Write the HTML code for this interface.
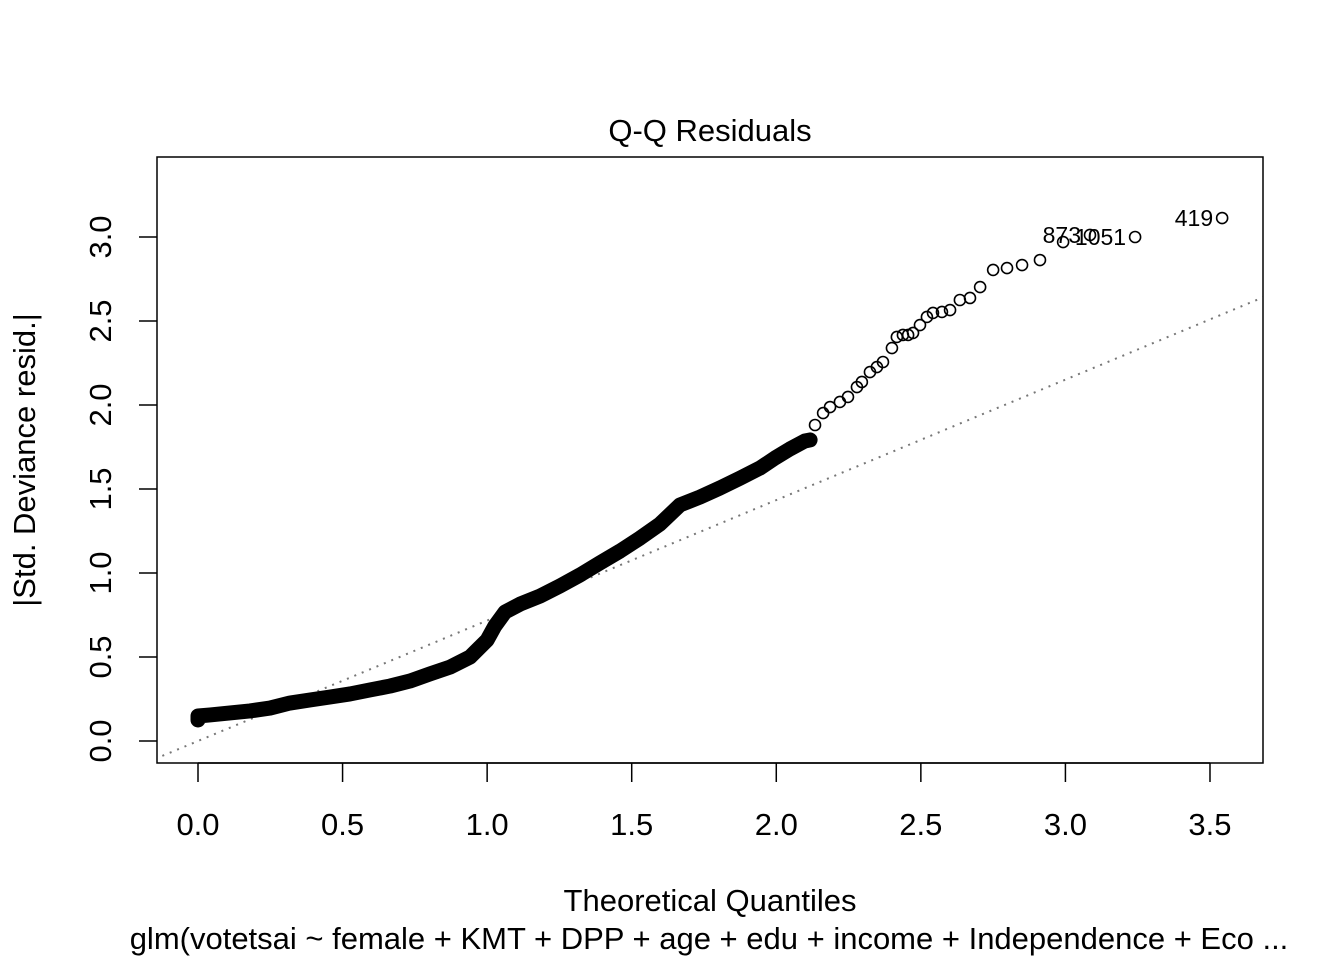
<!DOCTYPE html>
<html><head><meta charset="utf-8"><style>
html,body{margin:0;padding:0;background:#fff;}
svg{display:block;font-family:"Liberation Sans",Arial,sans-serif;}
</style></head><body>
<svg id="chart" width="1344" height="960" viewBox="0 0 1344 960" xmlns="http://www.w3.org/2000/svg">
<rect width="1344" height="960" fill="#fff"/>
<text x="710" y="141" font-size="31" text-anchor="middle">Q-Q Residuals</text>
<g id="xaxis"></g>
<g id="yaxis"></g>
<defs><clipPath id="clip"><rect x="157" y="157" width="1106" height="606"/></clipPath></defs>
<g id="refline" clip-path="url(#clip)"></g>
<g id="points"></g>
<g id="labels"></g>
<rect x="157" y="157" width="1106" height="606" fill="none" stroke="#000" stroke-width="1.5"/>
<text x="710" y="911" font-size="31" text-anchor="middle">Theoretical Quantiles</text>
<text x="709" y="949" font-size="31" text-anchor="middle">glm(votetsai ~ female + KMT + DPP + age + edu + income + Independence + Eco ...</text>
<text transform="translate(35,460) rotate(-90)" font-size="31" text-anchor="middle">|Std. Deviance resid.|</text>
</svg>
<script>
const xTicks=[0,0.5,1,1.5,2,2.5,3,3.5];
const xTickLabels=["0.0","0.5","1.0","1.5","2.0","2.5","3.0","3.5"];
const yTicks=[0,0.5,1,1.5,2,2.5,3];
const yTickLabels=["0.0","0.5","1.0","1.5","2.0","2.5","3.0"];
const denseX=[0,0,0.042,0.111,0.180,0.249,0.318,0.387,0.457,0.526,0.595,0.664,0.733,0.802,0.872,0.941,1.000,1.027,1.062,1.114,1.183,1.252,1.321,1.390,1.460,1.529,1.598,1.667,1.736,1.805,1.875,1.944,1.996,2.047,2.099,2.117];
const denseY=[0.125,0.149,0.155,0.167,0.179,0.196,0.226,0.244,0.262,0.280,0.304,0.327,0.357,0.399,0.440,0.500,0.601,0.685,0.768,0.815,0.863,0.923,0.988,1.060,1.131,1.208,1.292,1.405,1.452,1.506,1.565,1.625,1.685,1.738,1.786,1.792];
const tailX=[2.134,2.162,2.186,2.220,2.248,2.279,2.296,2.324,2.348,2.369,2.400,2.417,2.438,2.456,2.473,2.497,2.521,2.542,2.573,2.601,2.635,2.670,2.705,2.750,2.798,2.850,2.912,2.992,3.085,3.241,3.542];
const tailY=[1.881,1.952,1.988,2.018,2.048,2.107,2.137,2.196,2.226,2.256,2.339,2.405,2.417,2.417,2.429,2.476,2.524,2.548,2.554,2.565,2.625,2.637,2.702,2.804,2.815,2.833,2.863,2.970,3.012,3.000,3.113];
const labelNames=["873","1051","419"];
const labelX=[3.085,3.241,3.542];
const labelY=[3.012,3.000,3.113];
const refSlope=0.717, refIntercept=0.0;

const NS="http://www.w3.org/2000/svg";
const sx=v=>198+v*289.14;
const sy=v=>741-v*168;
function mk(tag,attrs,parent){const e=document.createElementNS(NS,tag);for(const k in attrs)e.setAttribute(k,attrs[k]);parent.appendChild(e);return e;}
const xa=document.getElementById('xaxis'), ya=document.getElementById('yaxis');
mk('line',{x1:sx(xTicks[0]),x2:sx(xTicks[xTicks.length-1]),y1:763,y2:763,stroke:'#000','stroke-width':1.5},xa);
xTicks.forEach((t,i)=>{
  const l=mk('line',{x1:sx(t),x2:sx(t),y1:763,y2:782,stroke:'#000','stroke-width':1.5},xa);
  
  
  const tx=mk('text',{x:sx(t),y:835,'font-size':31,'text-anchor':'middle'},xa);
  tx.textContent=xTickLabels[i];
  
  
});
yTicks.forEach((t,i)=>{
  const l=mk('line',{x1:157,x2:139,y1:sy(t),y2:sy(t),stroke:'#000','stroke-width':1.5},ya);
  
  
  const tx=mk('text',{transform:`translate(111,${sy(t)}) rotate(-90)`,'font-size':31,'text-anchor':'middle'},ya);
  tx.textContent=yTickLabels[i];
  
  
});
const rl=document.getElementById('refline');
const x0=-0.2,x1=4;
const ln=mk('line',{x1:sx(x0),y1:sy(refIntercept+refSlope*x0),x2:sx(x1),y2:sy(refIntercept+refSlope*x1),stroke:'#777','stroke-width':2,'stroke-dasharray':'2 6'},rl);


const pg=document.getElementById('points');
const band=mk('polyline',{points:denseX.map((x,i)=>sx(x)+','+sy(denseY[i])).join(' '),fill:'none',stroke:'#000','stroke-width':15,'stroke-linejoin':'round','stroke-linecap':'round'},pg);


denseX.concat(tailX).forEach((x,i)=>{
  const y=i<denseX.length?denseY[i]:tailY[i-denseX.length];
  const c=mk('circle',{cx:sx(x),cy:sy(y),r:5.5,fill:'none',stroke:'#000','stroke-width':1.6},pg);
  
  
});
const lg=document.getElementById('labels');
labelNames.forEach((n,i)=>{
  const t=mk('text',{x:sx(labelX[i])-9,y:sy(labelY[i])+8,'font-size':23,'text-anchor':'end'},lg);
  t.textContent=n;
  
  
});
</script>
</body></html>
